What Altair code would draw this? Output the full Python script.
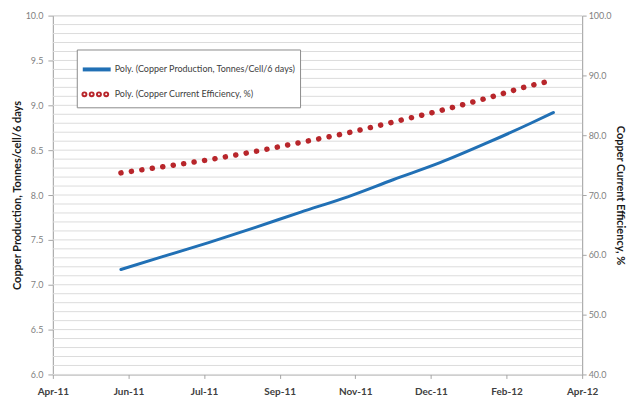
import altair as alt
import pandas as pd

series_names = [
    "Poly. (Copper Production, Tonnes/Cell/6 days)",
    "Poly. (Copper Current Efficiency, %)",
]

prod_dates = ["2011-06-04", "2011-07-01", "2011-08-01", "2011-09-01", "2011-10-01",
              "2011-11-01", "2011-12-01", "2012-01-01", "2012-02-01", "2012-03-01",
              "2012-03-16"]
prod_values = [7.17, 7.31, 7.47, 7.64, 7.81, 7.98, 8.17, 8.36, 8.58, 8.80, 8.92]

eff_dates = ["2011-06-04", "2011-07-01", "2011-08-01", "2011-09-01", "2011-10-01",
             "2011-11-01", "2011-12-01", "2012-01-01", "2012-02-01", "2012-03-01",
             "2012-03-11"]
eff_values = [73.7, 74.7, 75.9, 77.3, 78.8, 80.4, 82.2, 84.1, 86.2, 88.3, 88.9]

x_tick_dates = ["2011-04-20", "2011-06-09", "2011-07-29", "2011-09-17",
                "2011-11-06", "2011-12-26", "2012-02-14", "2012-04-04"]
left_ticks = [6.0, 6.5, 7.0, 7.5, 8.0, 8.5, 9.0, 9.5, 10.0]
right_ticks = [40, 50, 60, 70, 80, 90, 100]
grid_values = [round(6.0 + i * 0.1, 1) for i in range(41)]

def dt(s):
    y, m, d = (int(p) for p in s.split("-"))
    return alt.DateTime(year=y, month=m, date=d)

prod_df = pd.DataFrame({
    "date": [d + "T00:00:00" for d in prod_dates],
    "value": prod_values,
    "series": series_names[0],
})
eff_df = pd.DataFrame({
    "date": [d + "T00:00:00" for d in eff_dates],
    "value": eff_values,
    "series": series_names[1],
})
grid_df = pd.DataFrame({"g": grid_values})

FONT = "Lato"

x_enc = alt.X(
    "date:T",
    scale=alt.Scale(domain=[dt(x_tick_dates[0]), dt(x_tick_dates[-1])]),
    axis=alt.Axis(
        values=[dt(d) for d in x_tick_dates], format="%b-%y", title=None,
        grid=False, labelFont=FONT, labelFontSize=10, labelFontWeight="bold",
        labelColor="#404040", domainColor="#a6a6a6", tickColor="#a6a6a6",
        tickSize=4, labelPadding=8, labelFlush=False,
    ),
)

left_scale = alt.Scale(domain=[6, 10], nice=False, zero=False)
left_axis = alt.Axis(
    values=left_ticks, format=".1f", title="Copper Production, Tonnes/cell/6 days",
    grid=False, labelFont=FONT, labelFontSize=9, labelColor="#7f7f7f",
    titleFont=FONT, titleFontSize=11, titleFontWeight="bold", titleColor="#1a1a1a",
    titlePadding=3, domainColor="#a6a6a6", tickColor="#a6a6a6", tickSize=5,
    labelPadding=5, orient="left",
)

# legend symbol shapes: solid stroke, and a row of small (filled-looking) dots
def disk(cx):
    parts = []
    for r in (0.01, 0.04, 0.07):
        parts.append(f"M{cx - r:.3f},0a{r},{r} 0 1,0 {2 * r:.3f},0"
                     f"a{r},{r} 0 1,0 {-2 * r:.3f},0")
    return " ".join(parts)

dots_path = " ".join(disk(cx) for cx in (-0.88, -0.36, 0.16, 0.68))
shape_scale = alt.Scale(domain=series_names, range=["M-1,0H1", dots_path])

color_scale = alt.Scale(domain=series_names, range=["#2170b5", "#b8262b"])
legend = alt.Legend(
    title=None, orient="none", legendX=24, legendY=34,
    symbolSize=784, symbolStrokeWidth=4,
    labelFont=FONT, labelFontSize=9, labelColor="#404040", labelLimit=400,
    strokeColor="#8c8c8c", padding=4, rowPadding=1, labelOffset=2,
    fillColor="white",
)

grid = alt.Chart(grid_df).mark_rule(color="#dcdcdc", strokeWidth=1).encode(
    y=alt.Y("g:Q", scale=left_scale, axis=left_axis)
)

blue = alt.Chart(prod_df).mark_line(strokeWidth=3, strokeCap="round",
                                    interpolate="monotone").encode(
    x=x_enc,
    y=alt.Y("value:Q", scale=left_scale, axis=left_axis),
    color=alt.Color("series:N", scale=color_scale, legend=legend),
)

# legend-only layer (no marks drawn: all rows filtered out)
legend_layer = alt.Chart(prod_df).mark_point(filled=False, opacity=1).encode(
    x=x_enc,
    y=alt.Y("value:Q", scale=left_scale, axis=left_axis),
    color=alt.Color("series:N", scale=color_scale, legend=legend),
    shape=alt.Shape("series:N", scale=shape_scale, legend=legend),
).transform_filter("false")

left_layer = alt.layer(grid, blue, legend_layer)

red = alt.Chart(eff_df).mark_line(strokeWidth=5.5, strokeCap="round",
                                  strokeDash=[0.1, 10.5],
                                  interpolate="monotone").encode(
    x=x_enc,
    y=alt.Y("value:Q", scale=alt.Scale(domain=[40, 100], nice=False, zero=False),
            axis=alt.Axis(values=right_ticks, format=".1f",
                          title="Copper Current Efficiency, %", grid=False,
                          labelFont=FONT, labelFontSize=9, labelColor="#7f7f7f",
                          titleFont=FONT, titleFontSize=11, titleFontWeight="bold",
                          titleColor="#1a1a1a", titlePadding=3,
                          domainColor="#a6a6a6", tickColor="#a6a6a6", tickSize=4,
                          labelPadding=2, orient="right")),
    color=alt.Color("series:N", scale=color_scale, legend=legend),
)

chart = alt.layer(left_layer, red).resolve_scale(y="independent").properties(
    width=531, height=360,
    autosize=alt.AutoSizeParams(type="none"),
    padding={"left": 45, "top": 7, "right": 46, "bottom": 22},
).configure_view(stroke=None).configure(background="white")

chart.save("out.html", embed_options={"renderer": "svg", "actions": False})
